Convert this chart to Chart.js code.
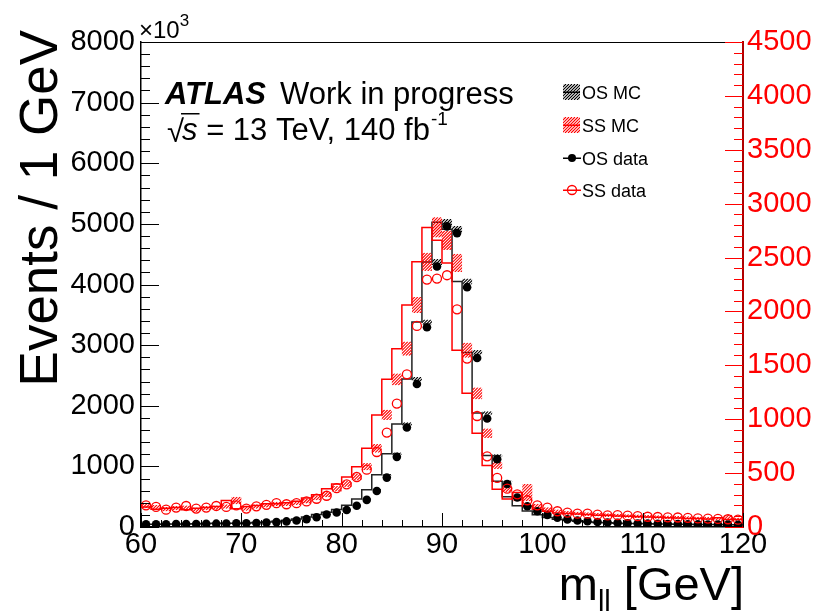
<!DOCTYPE html>
<html>
<head>
<meta charset="utf-8">
<script src="https://cdn.jsdelivr.net/npm/chart.js@4.4.1/dist/chart.umd.min.js"></script>
<style>
  html, body { margin: 0; padding: 0; background: #fff; }
  #wrap { width: 819px; height: 616px; }
</style>
</head>
<body>
<div id="wrap"><canvas id="myChart" width="819" height="616"></canvas></div>
<script>
// lower edge of each 1 GeV bin
var massBins = [60,61,62,63,64,65,66,67,68,69,70,71,72,73,74,75,76,77,78,79,
                80,81,82,83,84,85,86,87,88,89,90,91,92,93,94,95,96,97,98,99,
                100,101,102,103,104,105,106,107,108,109,110,111,112,113,114,115,116,117,118,119];
var massMax = 120;

// opposite-sign (left axis)
var osData = [45,45,46,47,48,50,52,55,58,62,
              61,66,72,80,92,108,130,160,205,240,
              280,350,448,595,815,1157,1641,2358,3295,4298,
              4959,4848,3956,2788,1790,1119,710,486,342,260,
              198,155,126,108,94,82,74,68,62,58,
              55,52,49,47,45,43,42,40,39,38];
var osMc = [46,46,47,48,49,51,53,56,60,63,
            63,68,74,82,94,110,132,163,208,245,
            288,360,460,615,860,1210,1700,2440,3380,4370,
            5025,4910,4050,2880,1880,1180,755,500,352,265,
            202,158,128,110,96,84,75,69,63,59,
            56,53,50,48,46,44,43,41,40,39];
var osMcErr = [5,5,5,5,5,5,5,5,5,5,
               5,5,5,5,6,6,6,7,8,8,
               9,10,11,13,16,20,26,34,42,50,
               55,55,48,38,28,20,14,10,8,7,
               6,6,5,5,5,5,5,5,5,5,
               5,5,5,5,5,5,5,5,5,5];

// same-sign (right axis)
var ssData = [201,186,161,180,195,171,180,195,186,201,
              171,192,206,221,211,221,237,262,290,360,
              396,464,532,696,876,1145,1417,1866,2296,2305,
              2336,2020,1563,1030,656,455,356,303,248,201,
              180,146,133,124,124,115,108,110,105,100,
              95,93,90,88,85,80,78,75,72,68];
var ssMc = [195,185,165,175,180,160,175,180,190,245,
            170,190,200,215,215,225,240,270,300,355,
            400,465,560,730,1040,1370,1655,2060,2460,2780,
            2660,2450,1640,1240,870,570,350,260,320,195,
            165,145,130,125,120,115,110,108,102,100,
            95,92,90,86,84,80,78,75,85,70];
var ssMcErr = [22,20,20,20,20,20,20,20,20,35,
               20,20,20,20,20,20,22,22,24,26,
               28,30,34,40,48,55,65,75,85,95,
               90,85,70,55,45,32,25,22,80,20,
               18,18,18,17,17,17,17,16,16,16,
               16,16,16,16,16,16,16,16,28,16];

var leftTicks = [0,1000,2000,3000,4000,5000,6000,7000,8000];
var rightTicks = [0,500,1000,1500,2000,2500,3000,3500,4000,4500];
var legendNames = ['OS MC', 'SS MC', 'OS data', 'SS data'];

var FONT = "'Liberation Sans', Arial, Helvetica, sans-serif";
var RED = '#ff0000';

// diagonal hatching inside a rectangle (ROOT fill style 3354 look)
function drawHatch(ctx, left, top, w, h, color) {
	ctx.save();
	ctx.beginPath();
	ctx.rect(left, top, w, h);
	ctx.clip();
	ctx.strokeStyle = color;
	ctx.lineWidth = 1.1;
	ctx.beginPath();
	for (var k = -h; k < w + h; k += 3) {
		ctx.moveTo(left + k, top + h);
		ctx.lineTo(left + k + h, top);
	}
	ctx.stroke();
	ctx.restore();
}

function stepPoints(vals) {
	var pts = massBins.map(function(m, i) { return {x: m, y: vals[i]}; });
	pts.push({x: massMax, y: vals[vals.length - 1]});
	return pts;
}
function bandBars(vals, errs) {
	return massBins.map(function(m, i) { return {x: m + 0.5, y: [vals[i] - errs[i], vals[i] + errs[i]]}; });
}
function centers(vals) {
	return massBins.map(function(m, i) { return {x: m + 0.5, y: vals[i]}; });
}

// hatch the band bars using the geometry the bar controller computed
var hatchBars = {
	id: 'hatchBars',
	afterDatasetDraw: function(chart, args) {
		var ds = chart.data.datasets[args.index];
		if (!ds.hatchColor) return;
		var ctx = chart.ctx, a = chart.chartArea;
		ctx.save();
		ctx.beginPath();
		ctx.rect(a.left, a.top, a.right - a.left, a.bottom - a.top);
		ctx.clip();
		args.meta.data.forEach(function(el) {
			var p = el.getProps(['x', 'y', 'base', 'width'], true);
			var top = Math.min(p.y, p.base), h = Math.abs(p.base - p.y);
			drawHatch(ctx, p.x - p.width / 2, top, p.width, h, ds.hatchColor);
		});
		ctx.restore();
	}
};

// inside ticks, frame and all the ROOT style text
var decor = {
	id: 'decor',
	afterDatasetsDraw: function(chart) {
		var ctx = chart.ctx, a = chart.chartArea;
		var sx = chart.scales.x, sy = chart.scales.y, sy2 = chart.scales.y2;
		ctx.save();
		ctx.lineWidth = 1;
		ctx.strokeStyle = '#000';
		ctx.beginPath();
		for (var v = 0; v <= 8000; v += 200) {
			var py = Math.round(sy.getPixelForValue(v)) + 0.5;
			var len = (v % 1000 === 0) ? 18 : 9;
			ctx.moveTo(a.left, py); ctx.lineTo(a.left + len, py);
		}
		for (var xv = 60; xv <= 120; xv += 2) {
			var px = Math.round(sx.getPixelForValue(xv)) + 0.5;
			var l2 = (xv % 10 === 0) ? 14 : 7;
			ctx.moveTo(px, a.bottom); ctx.lineTo(px, a.bottom - l2);
		}
		ctx.stroke();
		ctx.beginPath();
		ctx.moveTo(a.left, a.top + 0.5); ctx.lineTo(a.right, a.top + 0.5);
		ctx.stroke();
		ctx.strokeStyle = RED;
		ctx.beginPath();
		for (var w = 0; w <= 4500; w += 100) {
			var py2 = Math.round(sy2.getPixelForValue(w)) + 0.5;
			var l3 = (w % 500 === 0) ? 18 : 9;
			ctx.moveTo(a.right, py2); ctx.lineTo(a.right - l3, py2);
		}
		ctx.stroke();
		ctx.restore();
	},
	afterDraw: function(chart) {
		var ctx = chart.ctx;
		ctx.save();
		ctx.fillStyle = '#000';
		ctx.textBaseline = 'alphabetic';

		// y title
		ctx.save();
		ctx.translate(57, 30);
		ctx.rotate(-Math.PI / 2);
		ctx.textAlign = 'right';
		ctx.font = '53px ' + FONT;
		ctx.fillText('Events / 1 GeV', 0, 0);
		ctx.restore();

		// x title m_ll [GeV]
		ctx.textAlign = 'right';
		ctx.font = '47px ' + FONT;
		var right = 744;
		var part = ' [GeV]';
		ctx.fillText(part, right, 600);
		right -= ctx.measureText(part).width;
		ctx.font = '29px ' + FONT;
		ctx.fillText('ll', right, 611);
		right -= ctx.measureText('ll').width;
		ctx.font = '47px ' + FONT;
		ctx.fillText('m', right, 600);

		// x10^3
		ctx.textAlign = 'left';
		ctx.font = '24px ' + FONT;
		ctx.fillText('\u00d710', 139, 38);
		var w10 = ctx.measureText('\u00d710').width;
		ctx.font = '17px ' + FONT;
		ctx.fillText('3', 139 + w10, 26);

		// ATLAS label
		ctx.font = 'italic bold 31px ' + FONT;
		ctx.fillText('ATLAS', 165, 104);
		ctx.font = '31px ' + FONT;
		ctx.fillText('Work in progress', 280, 104);

		// sqrt(s) line
		var x0 = 167, by = 140;
		ctx.font = '31px ' + FONT;
		ctx.fillText('\u221a', x0, by + 2);
		var ws = ctx.measureText('\u221a').width;
		ctx.font = 'italic 31px ' + FONT;
		var sw = ctx.measureText('s').width;
		ctx.fillText('s', x0 + ws - 2, by);
		ctx.fillRect(x0 + ws - 3, by - 27, sw + 3, 1.5);
		ctx.font = '31px ' + FONT;
		var rest = ' = 13 TeV, 140 fb';
		var rx = x0 + ws - 2 + sw;
		ctx.fillText(rest, rx, by);
		rx += ctx.measureText(rest).width;
		ctx.font = '19px ' + FONT;
		ctx.fillText('-1', rx + 1, by - 15);

		// legend
		var lx = 563, ly = [92, 125, 158, 190];
		drawHatch(ctx, lx, ly[0] - 8, 17, 16, '#000');
		ctx.fillStyle = '#000';
		ctx.fillRect(lx, ly[0] - 0.5, 17, 1.5);
		drawHatch(ctx, lx, ly[1] - 8, 17, 16, RED);
		ctx.fillStyle = RED;
		ctx.fillRect(lx, ly[1] - 0.5, 17, 1.5);
		ctx.fillStyle = '#000';
		ctx.fillRect(lx, ly[2] - 0.5, 18, 1.5);
		ctx.beginPath(); ctx.arc(lx + 9, ly[2], 4, 0, Math.PI * 2); ctx.fill();
		ctx.fillStyle = RED;
		ctx.fillRect(lx, ly[3] - 0.5, 18, 1.5);
		ctx.strokeStyle = RED; ctx.lineWidth = 1.3;
		ctx.beginPath(); ctx.arc(lx + 9, ly[3], 4.5, 0, Math.PI * 2); ctx.stroke();

		ctx.font = '18px ' + FONT;
		ctx.textAlign = 'left';
		ctx.fillStyle = '#000';
		for (var i = 0; i < legendNames.length; i++) {
			ctx.fillText(legendNames[i], lx + 19, ly[i] + 7);
		}
		ctx.restore();
	}
};

Chart.defaults.font.family = FONT;
Chart.defaults.color = '#000';

var chart = new Chart(document.getElementById('myChart'), {
	type: 'bar',
	data: {
		datasets: [
			{
				type: 'bar', label: 'OS MC band', order: 6, hatchColor: '#000',
				data: bandBars(osMc, osMcErr), yAxisID: 'y', xAxisID: 'x',
				backgroundColor: 'rgba(0,0,0,0)', borderWidth: 0,
				grouped: false, barPercentage: 1, categoryPercentage: 1
			},
			{
				type: 'line', label: 'OS MC', order: 5,
				data: stepPoints(osMc), yAxisID: 'y', xAxisID: 'x',
				stepped: 'after', borderColor: '#222', borderWidth: 1.5,
				pointRadius: 0, fill: false
			},
			{
				type: 'bar', label: 'SS MC band', order: 4, hatchColor: RED,
				data: bandBars(ssMc, ssMcErr), yAxisID: 'y2', xAxisID: 'x',
				backgroundColor: 'rgba(0,0,0,0)', borderWidth: 0,
				grouped: false, barPercentage: 1, categoryPercentage: 1
			},
			{
				type: 'line', label: 'SS MC', order: 3,
				data: stepPoints(ssMc), yAxisID: 'y2', xAxisID: 'x',
				stepped: 'after', borderColor: RED, borderWidth: 1.5,
				pointRadius: 0, fill: false
			},
			{
				type: 'scatter', label: 'OS data', order: 2,
				data: centers(osData), yAxisID: 'y', xAxisID: 'x',
				pointRadius: 4.3, pointBackgroundColor: '#000', pointBorderColor: '#000',
				pointBorderWidth: 0, showLine: false
			},
			{
				type: 'scatter', label: 'SS data', order: 1,
				data: centers(ssData), yAxisID: 'y2', xAxisID: 'x',
				pointRadius: 4.5, pointBackgroundColor: 'rgba(0,0,0,0)', pointBorderColor: RED,
				pointBorderWidth: 1.3, showLine: false
			}
		]
	},
	options: {
		responsive: false,
		animation: false,
		events: [],
		layout: { padding: { top: 42, left: 0, right: 0, bottom: 0 } },
		plugins: { legend: { display: false }, tooltip: { enabled: false }, title: { display: false } },
		scales: {
			x: {
				type: 'linear', position: 'bottom', min: 60, max: massMax, offset: false,
				afterBuildTicks: function(s) { s.ticks = [60,70,80,90,100,110,120].map(function(v) { return {value: v}; }); },
				ticks: { font: { size: 29 }, color: '#000', padding: 1, maxRotation: 0, autoSkip: false,
					callback: function(v) { return String(v); } },
				grid: { display: false, drawTicks: false, offset: false },
				border: { display: true, color: '#000', width: 1.5 },
				afterFit: function(s) { s.height = 89; }
			},
			y: {
				type: 'linear', position: 'left', min: 0, max: 8000,
				afterBuildTicks: function(s) { s.ticks = leftTicks.map(function(v) { return {value: v}; }); },
				ticks: { font: { size: 29 }, color: '#000', padding: 6,
					callback: function(v) { return String(v); } },
				grid: { display: false, drawTicks: false },
				border: { display: true, color: '#000', width: 1.5 },
				afterFit: function(s) { s.width = 141; }
			},
			y2: {
				type: 'linear', position: 'right', min: 0, max: 4500,
				afterBuildTicks: function(s) { s.ticks = rightTicks.map(function(v) { return {value: v}; }); },
				ticks: { font: { size: 29 }, color: RED, padding: 4,
					callback: function(v) { return String(v); } },
				grid: { display: false, drawTicks: false },
				border: { display: true, color: '#b00000', width: 2 },
				afterFit: function(s) { s.width = 76; }
			}
		}
	},
	plugins: [hatchBars, decor]
});
</script>
</body>
</html>
